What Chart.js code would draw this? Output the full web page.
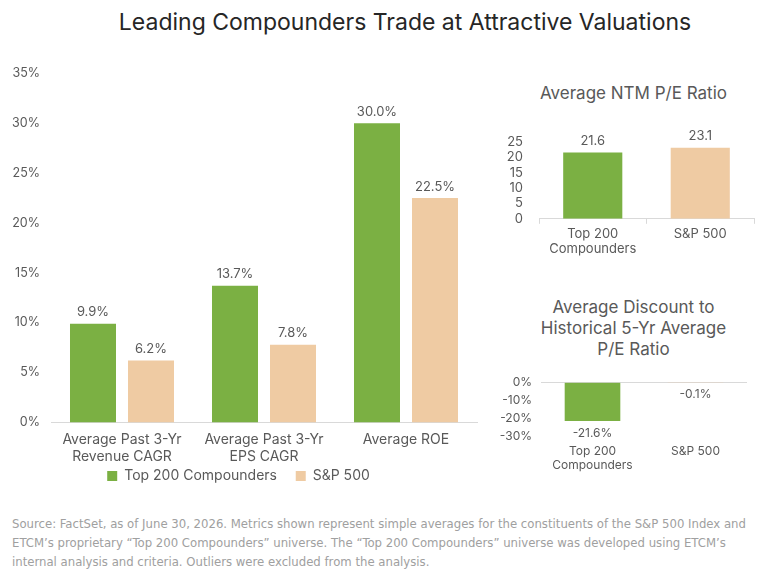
<!DOCTYPE html>
<html>
<head>
<meta charset="utf-8">
<script src="https://cdn.jsdelivr.net/npm/chart.js@4"></script>
<style>
  body { margin: 0; background: #fff; width: 767px; height: 577px; position: relative; overflow: hidden; font-family: Inter, "Noto Sans", sans-serif; }
  .abs { position: absolute; }
  #title { left: 105px; width: 600px; top: 8px; text-align: center; font-size: 23px; color: #262626; }
  .sub { color: #595959; font-size: 17px; text-align: center; line-height: 21px; }
  #peTitle { left: 500px; width: 267px; top: 83px; }
  #discTitle { left: 500px; width: 267px; top: 297px; }
  #source { left: 12px; top: 514px; width: 750px; font-family: "Liberation Sans Narrow", "DejaVu Sans Condensed", sans-serif; font-size: 13px; line-height: 19px; color: #a0a0a0; }
</style>
</head>
<body>
<div id="title" class="abs">Leading Compounders Trade at Attractive Valuations</div>
<div class="abs" style="left:0;top:63px;width:495px;height:430px"><canvas id="mainChart"></canvas></div>
<div id="peTitle" class="abs sub">Average NTM P/E Ratio</div>
<div class="abs" style="left:500px;top:123px;width:267px;height:136px"><canvas id="peChart"></canvas></div>
<div id="discTitle" class="abs sub">Average Discount to<br>Historical 5-Yr Average<br>P/E Ratio</div>
<div class="abs" style="left:500px;top:366px;width:267px;height:107px"><canvas id="discChart"></canvas></div>
<div id="source" class="abs">Source: FactSet, as of June 30, 2026. Metrics shown represent simple averages for the constituents of the S&amp;P 500 Index and ETCM’s proprietary “Top 200 Compounders” universe. The “Top 200 Compounders” universe was developed using ETCM’s internal analysis and criteria. Outliers were excluded from the analysis.</div>

<script>
// data
const metrics = [['Average Past 3-Yr', 'Revenue CAGR'], ['Average Past 3-Yr', 'EPS CAGR'], 'Average ROE'];
const top200 = [9.9, 13.7, 30.0];
const sp500 = [6.2, 7.8, 22.5];

const groups = [['Top 200', 'Compounders'], 'S&P 500'];
const peRatio = [21.6, 23.1];
const peDiscount = [-21.6, -0.1];

const GREEN = '#7BB043';
const BEIGE = '#EFCBA3';
const GREY = '#595959';
const LINE = '#d9d9d9';
const FONT = 'Inter, "Noto Sans", sans-serif';

Chart.defaults.font.family = FONT;
Chart.defaults.color = GREY;
Chart.defaults.animation = false;

// Etiquetas sobre las barras
const valueLabels = {
  id: 'valueLabels',
  afterDatasetsDraw(chart, args, opts) {
    const ctx = chart.ctx;
    ctx.save();
    ctx.font = (opts.size || 13) + 'px ' + FONT;
    ctx.fillStyle = GREY;
    ctx.textAlign = 'center';
    chart.data.datasets.forEach((ds, i) => {
      chart.getDatasetMeta(i).data.forEach((bar, j) => {
        const v = ds.data[j];
        const txt = opts.fmt(v);
        if (v >= 0) {
          ctx.textBaseline = 'bottom';
          ctx.fillText(txt, bar.x, bar.y - 5);
        } else {
          ctx.textBaseline = 'top';
          ctx.fillText(txt, bar.x, Math.max(bar.y, bar.base) + 6);
        }
      });
    });
    ctx.restore();
  }
};

// ancho fijo del eje y
const fixWidth = w => scale => { scale.width = w; };

new Chart(document.getElementById('mainChart'), {
  type: 'bar',
  data: {
    labels: metrics,
    datasets: [
      { label: 'Top 200 Compounders', data: top200, backgroundColor: GREEN },
      { label: 'S&P 500', data: sp500, backgroundColor: BEIGE }
    ]
  },
  plugins: [valueLabels],
  options: {
    responsive: true,
    maintainAspectRatio: false,
    categoryPercentage: 0.817,
    barPercentage: 0.793,
    layout: { padding: { top: 1, right: 18 } },
    plugins: {
      legend: {
        position: 'bottom',
        labels: {
          boxWidth: 10, boxHeight: 10, font: { size: 14 }, color: GREY, padding: 3,
          // espacio extra entre los dos items
          generateLabels: chart => Chart.defaults.plugins.legend.labels.generateLabels(chart)
            .map((l, i) => i === 0 ? Object.assign(l, { text: l.text + '    ' }) : l)
        }
      },
      tooltip: { enabled: false },
      valueLabels: { size: 13, fmt: v => v.toFixed(1) + '%' }
    },
    scales: {
      x: {
        grid: { display: false },
        border: { color: LINE },
        ticks: { font: { size: 14 }, color: GREY, padding: 1 }
      },
      y: {
        min: 0, max: 35,
        afterFit: fixWidth(51),
        grid: { display: false },
        border: { display: false },
        ticks: { stepSize: 5, font: { size: 12.5 }, color: GREY, padding: 3, callback: v => v + '%' }
      }
    }
  }
});

new Chart(document.getElementById('peChart'), {
  type: 'bar',
  data: {
    labels: groups,
    datasets: [{ data: peRatio, backgroundColor: [GREEN, BEIGE] }]
  },
  plugins: [valueLabels],
  options: {
    responsive: true,
    maintainAspectRatio: false,
    categoryPercentage: 1,
    barPercentage: 0.55,
    layout: { padding: { top: 19, right: 13 } },
    plugins: {
      legend: { display: false },
      tooltip: { enabled: false },
      valueLabels: { size: 13, fmt: v => v.toFixed(1) }
    },
    scales: {
      x: {
        grid: { display: true, drawOnChartArea: false, tickLength: 5, color: LINE },
        border: { color: LINE },
        ticks: { font: { size: 13 }, color: GREY, padding: 2 }
      },
      y: {
        min: 0, max: 25,
        afterFit: fixWidth(39),
        grid: { display: false },
        border: { display: false },
        ticks: { stepSize: 5, autoSkip: false, font: { size: 13 }, color: GREY, padding: 8 }
      }
    }
  }
});

new Chart(document.getElementById('discChart'), {
  type: 'bar',
  data: {
    labels: groups,
    datasets: [{ data: peDiscount, backgroundColor: [GREEN, BEIGE] }]
  },
  plugins: [valueLabels],
  options: {
    responsive: true,
    maintainAspectRatio: false,
    categoryPercentage: 1,
    barPercentage: 0.54,
    layout: { padding: { top: 8, right: 20 } },
    plugins: {
      legend: { display: false },
      tooltip: { enabled: false },
      valueLabels: { size: 12, fmt: v => v.toFixed(1) + '%' }
    },
    scales: {
      x: {
        grid: { display: false },
        border: { display: false },
        ticks: { font: { size: 12 }, color: GREY, padding: 0 }
      },
      y: {
        min: -30, max: 0,
        afterFit: fixWidth(41),
        grid: { color: c => c.tick.value === 0 ? LINE : 'transparent', drawTicks: false },
        border: { display: false },
        ticks: { stepSize: 10, autoSkip: false, font: { size: 12 }, color: GREY, padding: 9, callback: v => v + '%' }
      }
    }
  }
});
</script>
</body>
</html>
